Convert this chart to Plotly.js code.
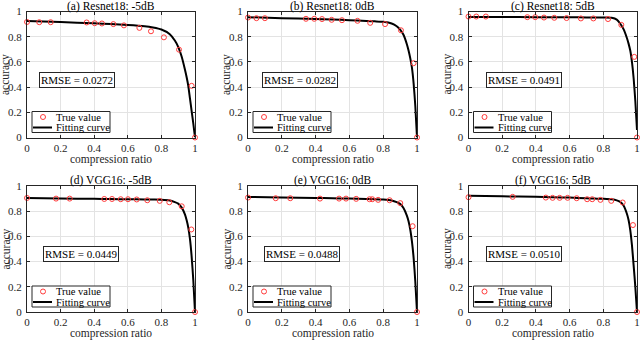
<!DOCTYPE html>
<html>
<head>
<meta charset="utf-8">
<script src="https://cdn.plot.ly/plotly-3.0.1.min.js"></script>
<style>
  body { margin: 0; background: #fff; }
  #plotArea { width: 640px; height: 340px; }
</style>
</head>
<body>
<div id="plotArea"></div>
<script>
// panel titles and fit errors
var titles = ['(a) Resnet18: -5dB', '(b) Resnet18: 0dB', '(c) Resnet18: 5dB',
              '(d) VGG16: -5dB', '(e) VGG16: 0dB', '(f) VGG16: 5dB'];
var rmse = ['RMSE = 0.0272', 'RMSE = 0.0282', 'RMSE = 0.0491',
            'RMSE = 0.0449', 'RMSE = 0.0488', 'RMSE = 0.0510'];

// true values
var trueXa = [0, 0.073, 0.141, 0.355, 0.403, 0.446, 0.514, 0.577, 0.669, 0.738, 0.815, 0.905, 0.98, 1];
var trueYa = [0.917, 0.915, 0.915, 0.913, 0.907, 0.905, 0.9, 0.89, 0.87, 0.843, 0.795, 0.697, 0.41, 0];
var trueXb = [0, 0.05, 0.1, 0.343, 0.392, 0.438, 0.495, 0.556, 0.648, 0.723, 0.811, 0.905, 0.98, 1];
var trueYb = [0.952, 0.947, 0.947, 0.942, 0.942, 0.94, 0.934, 0.931, 0.926, 0.91, 0.9, 0.851, 0.59, 0];
var trueXc = [0, 0.046, 0.103, 0.349, 0.396, 0.448, 0.509, 0.582, 0.667, 0.741, 0.828, 0.907, 0.984, 1];
var trueYc = [0.96, 0.96, 0.96, 0.955, 0.955, 0.952, 0.95, 0.948, 0.945, 0.945, 0.94, 0.894, 0.64, 0];
var trueXd = [0, 0.173, 0.254, 0.46, 0.506, 0.558, 0.601, 0.653, 0.716, 0.79, 0.847, 0.921, 0.978, 1];
var trueYd = [0.905, 0.9, 0.9, 0.897, 0.897, 0.895, 0.895, 0.893, 0.887, 0.882, 0.871, 0.839, 0.655, 0];
var trueXe = [0, 0.164, 0.25, 0.426, 0.539, 0.58, 0.64, 0.719, 0.735, 0.77, 0.838, 0.901, 0.974, 1];
var trueYe = [0.908, 0.903, 0.903, 0.9, 0.9, 0.9, 0.898, 0.895, 0.895, 0.89, 0.887, 0.864, 0.681, 0];
var trueXf = [0, 0.262, 0.459, 0.499, 0.541, 0.588, 0.642, 0.704, 0.734, 0.783, 0.847, 0.915, 0.976, 1];
var trueYf = [0.911, 0.914, 0.908, 0.906, 0.906, 0.906, 0.903, 0.895, 0.895, 0.89, 0.882, 0.869, 0.69, 0];

// fitting curves
var fitX  = [0, 0.2, 0.4, 0.5, 0.6, 0.7, 0.75, 0.8, 0.85, 0.88, 0.9, 0.92, 0.94, 0.95, 0.96, 0.97, 0.98, 0.99, 1];
var fitYa = [0.925, 0.916, 0.906, 0.9, 0.893, 0.883, 0.873, 0.857, 0.82, 0.77, 0.72, 0.645, 0.54, 0.48, 0.41, 0.31, 0.21, 0.11, 0];
var fitYb = [0.955, 0.947, 0.94, 0.936, 0.931, 0.925, 0.922, 0.918, 0.905, 0.883, 0.857, 0.815, 0.74, 0.69, 0.63, 0.555, 0.43, 0.25, 0];
var fitYc = [0.957, 0.956, 0.955, 0.955, 0.954, 0.953, 0.953, 0.952, 0.95, 0.936, 0.905, 0.86, 0.79, 0.745, 0.69, 0.6, 0.47, 0.29, 0.06];
var fitYd = [0.905, 0.901, 0.898, 0.896, 0.895, 0.893, 0.892, 0.891, 0.885, 0.872, 0.86, 0.83, 0.775, 0.73, 0.67, 0.58, 0.44, 0.25, 0];
var fitYe = [0.913, 0.909, 0.905, 0.903, 0.9, 0.897, 0.895, 0.892, 0.885, 0.872, 0.858, 0.825, 0.765, 0.72, 0.655, 0.56, 0.43, 0.24, 0];
var fitYf = [0.922, 0.918, 0.914, 0.911, 0.908, 0.902, 0.9, 0.898, 0.894, 0.886, 0.874, 0.845, 0.78, 0.73, 0.65, 0.53, 0.37, 0.2, 0];

var trueX = [trueXa, trueXb, trueXc, trueXd, trueXe, trueXf];
var trueY = [trueYa, trueYb, trueYc, trueYd, trueYe, trueYf];
var fitY  = [fitYa, fitYb, fitYc, fitYd, fitYe, fitYf];

var rmseX = [0.30, 0.31, 0.33, 0.32, 0.32, 0.33];

// layout grid (pixels)
var colX = [[27, 195], [248, 417], [468.5, 637]];
var rowY = [[11.5, 137.5], [186, 312]];
var W = 640, H = 340;

var fontName = 'Liberation Serif';
var ink = '#262626';

var data = [];
var layout = {
  width: W, height: H,
  margin: {l: 0, r: 0, t: 0, b: 0},
  paper_bgcolor: '#fff', plot_bgcolor: '#fff',
  showlegend: false,
  font: {family: fontName, size: 12, color: ink},
  annotations: [],
  shapes: []
};

for (var i = 0; i < 6; i++) {
  var n = i + 1;
  var xa = n === 1 ? 'x' : 'x' + n;
  var ya = n === 1 ? 'y' : 'y' + n;
  var col = colX[i % 3], row = rowY[Math.floor(i / 3)];
  var pw = col[1] - col[0], ph = row[1] - row[0];

  data.push({
    x: fitX, y: fitY[i], xaxis: xa, yaxis: ya,
    mode: 'lines', type: 'scatter', name: 'Fitting curve',
    line: {color: '#000', width: 2, shape: 'spline', smoothing: 0.6},
    cliponaxis: false
  });
  data.push({
    x: trueX[i], y: trueY[i], xaxis: xa, yaxis: ya,
    mode: 'markers', type: 'scatter', name: 'True value',
    marker: {symbol: 'circle-open', size: 5, color: '#ff3b3b', line: {width: 1}},
    cliponaxis: false
  });

  var axCommon = {
    range: [0, 1], dtick: 0.2, tick0: 0,
    showgrid: true, gridcolor: '#e3e3e3', gridwidth: 1,
    zeroline: false, showline: true, linecolor: ink, linewidth: 1,
    mirror: 'ticks', ticks: 'inside', ticklen: 3, tickcolor: ink,
    tickfont: {family: fontName, size: 11, color: ink},
    fixedrange: true
  };
  layout['xaxis' + (n === 1 ? '' : n)] = Object.assign({}, axCommon, {
    domain: [col[0] / W, col[1] / W], anchor: ya
  });
  layout['yaxis' + (n === 1 ? '' : n)] = Object.assign({}, axCommon, {
    domain: [1 - row[1] / H, 1 - row[0] / H], anchor: xa,
    ticklabelstandoff: 2
  });

  var xd = xa + ' domain', yd = ya + ' domain';

  // titles
  layout.annotations.push({
    text: titles[i], xref: xd, x: 0.5, yref: 'paper', y: 1 - (row[0] - 5.5) / H,
    xanchor: 'center', yanchor: 'middle', showarrow: false,
    font: {family: fontName, size: 11.5, color: '#000'}
  });
  layout.annotations.push({
    text: 'compression ratio', xref: xd, x: 0.5, yref: 'paper', y: 1 - (row[1] + 21.5) / H,
    xanchor: 'center', yanchor: 'middle', showarrow: false,
    font: {family: fontName, size: 11.5, color: ink}
  });
  layout.annotations.push({
    text: 'accuracy', xref: xd, x: -21.5 / pw, yref: yd, y: 0.5, textangle: -90,
    xanchor: 'center', yanchor: 'middle', showarrow: false,
    font: {family: fontName, size: 11.5, color: ink}
  });

  // RMSE box
  layout.annotations.push({
    text: rmse[i], xref: xa, x: rmseX[i], yref: ya, y: 0.46,
    xanchor: 'center', yanchor: 'middle', showarrow: false,
    bgcolor: '#fff', bordercolor: ink, borderwidth: 1, borderpad: 1,
    font: {family: fontName, size: 11, color: '#000'}
  });

  // legend box
  layout.shapes.push({
    type: 'rect', xref: xd, yref: yd,
    x0: 5 / pw, x1: 83 / pw, y0: 5 / ph, y1: 26 / ph,
    fillcolor: '#fff', line: {color: ink, width: 1}, layer: 'above'
  });
  layout.shapes.push({
    type: 'circle', xref: xd, yref: yd,
    x0: 13.5 / pw, x1: 18.5 / pw, y0: 18 / ph, y1: 23 / ph,
    line: {color: '#ff3b3b', width: 1}, layer: 'above'
  });
  layout.shapes.push({
    type: 'line', xref: xd, yref: yd,
    x0: 6 / pw, x1: 25 / pw, y0: 10 / ph, y1: 10 / ph,
    line: {color: '#000', width: 2}, layer: 'above'
  });
  layout.annotations.push({
    text: 'True value', xref: xd, x: 27 / pw, yref: yd, y: 20.5 / ph,
    xanchor: 'left', yanchor: 'middle', showarrow: false,
    font: {family: fontName, size: 10.5, color: '#000'}
  });
  layout.annotations.push({
    text: 'Fitting curve', xref: xd, x: 27 / pw, yref: yd, y: 10 / ph,
    xanchor: 'left', yanchor: 'middle', showarrow: false,
    font: {family: fontName, size: 10.5, color: '#000'}
  });
}

Plotly.newPlot('plotArea', data, layout, {staticPlot: true, displayModeBar: false});
</script>
</body>
</html>
